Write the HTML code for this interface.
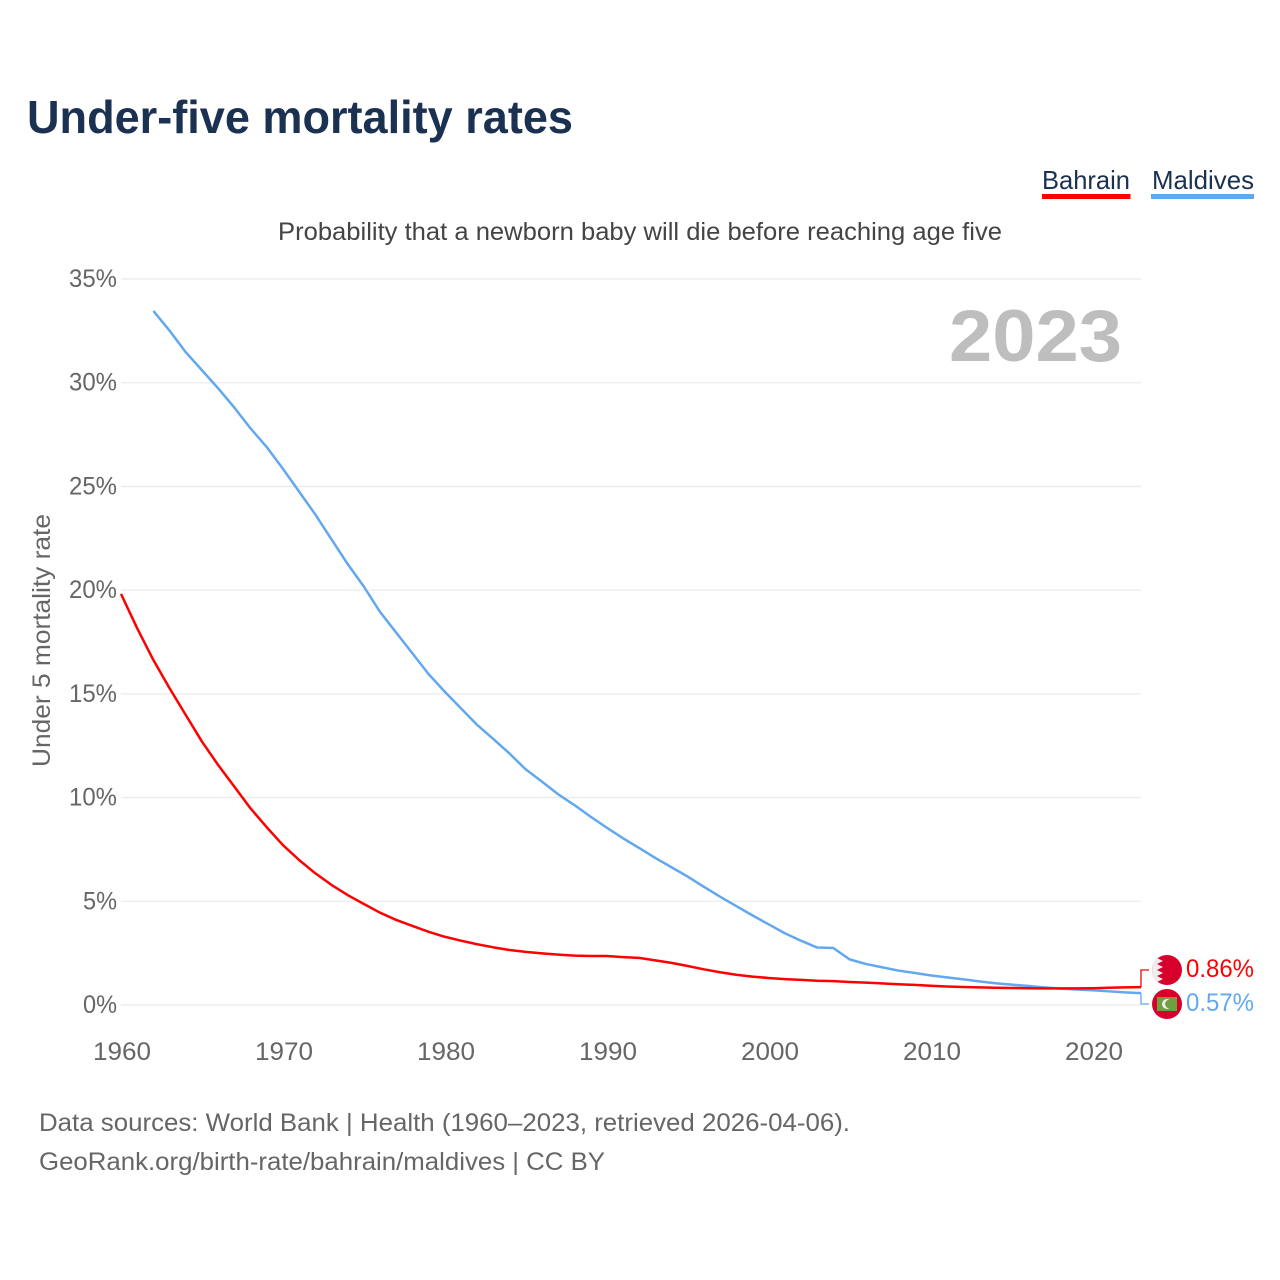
<!DOCTYPE html>
<html lang="en">
<head>
<meta charset="utf-8">
<title>Under-five mortality rates</title>
<style>
html,body{margin:0;padding:0;background:#fff;}
svg{display:block;}
text{font-family:"Liberation Sans",sans-serif;}
</style>
</head>
<body>
<svg id="chart" xmlns="http://www.w3.org/2000/svg" width="1280" height="1280" viewBox="0 0 1280 1280">
  <rect x="0" y="0" width="1280" height="1280" fill="#fff"/>
  <text x="27" y="133" font-size="46" font-weight="700" fill="#1a3152" textLength="546" lengthAdjust="spacingAndGlyphs">Under-five mortality rates</text>

  <g>
    <text x="1042" y="189" font-size="26" fill="#1a3152" textLength="88" lengthAdjust="spacingAndGlyphs">Bahrain</text>
    <rect x="1042" y="194" width="88.5" height="5" fill="#ff0000"/>
  </g>
  <g>
    <text x="1152" y="189" font-size="26" fill="#1a3152" textLength="102" lengthAdjust="spacingAndGlyphs">Maldives</text>
    <rect x="1151" y="194" width="103" height="5" fill="#62a8ee"/>
  </g>

  <text x="278" y="240" font-size="25" fill="#444" textLength="724" lengthAdjust="spacingAndGlyphs">Probability that a newborn baby will die before reaching age five</text>

  <g id="grid"></g>
  <g id="yAxis"></g>
  <g id="xAxis"></g>

  <text x="949" y="361" font-size="73" font-weight="700" fill="#bebebe" textLength="173" lengthAdjust="spacingAndGlyphs">2023</text>

  <text transform="translate(50,767) rotate(-90)" x="0" y="0" font-size="25" fill="#666" textLength="253" lengthAdjust="spacingAndGlyphs">Under 5 mortality rate</text>

  <path id="lineMaldives" fill="none" stroke="#62a8ee" stroke-width="2.5" stroke-linejoin="round"/>
  <path id="lineBahrain" fill="none" stroke="#ff0000" stroke-width="2.5" stroke-linejoin="round"/>

  <path id="connBahrain" fill="none" stroke="#ff0000" stroke-width="1.3"/>
  <path id="connMaldives" fill="none" stroke="#62a8ee" stroke-width="1.3"/>

  <defs>
    <clipPath id="clipBh"><circle cx="1167" cy="970" r="15"/></clipPath>
  </defs>
  <g clip-path="url(#clipBh)">
    <rect x="1152" y="955" width="30" height="30" fill="#d7002c"/>
    <polygon points="1152,955 1161,955 1157,958 1163,961 1157,964 1163,967 1157,970 1163,973 1157,976 1163,979 1157,982 1161,985 1152,985" fill="#eeeeee"/>
  </g>
  <g>
    <circle cx="1167" cy="1004" r="15" fill="#d7002c"/>
    <rect x="1157" y="997" width="20" height="14" fill="#6f9f3f"/>
    <circle cx="1167" cy="1004" r="5" fill="#eeeeee"/>
    <circle cx="1169.5" cy="1004" r="4.4" fill="#6f9f3f"/>
  </g>

  <text id="valueBahrain" x="1186" y="977" font-size="25" fill="#ff0000" textLength="68" lengthAdjust="spacingAndGlyphs"></text>
  <text id="valueMaldives" x="1186" y="1011" font-size="25" fill="#62a8ee" textLength="68" lengthAdjust="spacingAndGlyphs"></text>

  <text x="39" y="1131" font-size="25" fill="#666" textLength="811" lengthAdjust="spacingAndGlyphs">Data sources: World Bank | Health (1960–2023, retrieved 2026-04-06).</text>
  <text x="39" y="1170" font-size="25" fill="#666" textLength="566" lengthAdjust="spacingAndGlyphs">GeoRank.org/birth-rate/bahrain/maldives | CC BY</text>
</svg>

<script>
const yTickValues = [0, 5, 10, 15, 20, 25, 30, 35];
const xTickYears = [1960, 1970, 1980, 1990, 2000, 2010, 2020];
const bahrainStartYear = 1960;
const maldivesStartYear = 1962;
const bahrainValues = [
  19.82, 18.16, 16.63, 15.27, 13.98, 12.7, 11.57, 10.53, 9.48, 8.57,
  7.71, 6.99, 6.35, 5.79, 5.3, 4.87, 4.45, 4.1, 3.81, 3.53,
  3.29, 3.1, 2.93, 2.78, 2.65, 2.56, 2.49, 2.43, 2.38, 2.36,
  2.36, 2.31, 2.27, 2.15, 2.03, 1.88, 1.72, 1.58, 1.46, 1.37,
  1.3, 1.25, 1.21, 1.17, 1.15, 1.11, 1.08, 1.04, 1.0, 0.97,
  0.93, 0.89, 0.87, 0.85, 0.83, 0.82, 0.81, 0.8, 0.8, 0.8,
  0.81, 0.83, 0.85, 0.86
];
const maldivesValues = [
  33.46, 32.51, 31.47, 30.6, 29.73, 28.8, 27.8, 26.9,
  25.85, 24.75, 23.65, 22.45, 21.26, 20.17, 18.95, 17.95, 16.95, 15.95,
  15.1, 14.3, 13.5, 12.82, 12.12, 11.36, 10.77, 10.16, 9.64, 9.08,
  8.55, 8.04, 7.57, 7.09, 6.64, 6.19, 5.7, 5.22, 4.77, 4.32,
  3.89, 3.46, 3.1, 2.77, 2.75, 2.2, 1.98, 1.82, 1.66, 1.55,
  1.43, 1.33, 1.24, 1.14, 1.05, 0.98, 0.92, 0.85, 0.79, 0.75,
  0.71, 0.66, 0.61, 0.57
];

const NS = 'http://www.w3.org/2000/svg';
function xScale(year) { return 121 + (year - 1960) * (1020 / 63); }
function yScale(v) { return 1005 - v * (726 / 35); }
function linePath(values, startYear) {
  return values.map(function (v, i) {
    return (i ? 'L' : 'M') + xScale(startYear + i).toFixed(2) + ' ' + yScale(v).toFixed(2);
  }).join(' ');
}

const grid = document.getElementById('grid');
const yAxis = document.getElementById('yAxis');
const xAxis = document.getElementById('xAxis');

yTickValues.forEach(function (v) {
  const line = document.createElementNS(NS, 'line');
  
  
  line.setAttribute('x1', 121);
  line.setAttribute('x2', 1141);
  line.setAttribute('y1', yScale(v));
  line.setAttribute('y2', yScale(v));
  line.setAttribute('stroke', '#ebebeb');
  line.setAttribute('stroke-width', '1.3');
  grid.appendChild(line);

  const label = document.createElementNS(NS, 'text');
  
  
  const width = v >= 10 ? 48 : 34;
  label.setAttribute('x', 117 - width);
  label.setAttribute('y', yScale(v) + 8);
  label.setAttribute('font-size', '25');
  label.setAttribute('fill', '#666');
  label.setAttribute('textLength', width);
  label.setAttribute('lengthAdjust', 'spacingAndGlyphs');
  label.textContent = v + '%';
  yAxis.appendChild(label);
});

xTickYears.forEach(function (year) {
  const label = document.createElementNS(NS, 'text');
  
  
  label.setAttribute('x', xScale(year) - 28 + (year - 1960) * 0.01);
  label.setAttribute('y', 1060);
  label.setAttribute('font-size', '25');
  label.setAttribute('fill', '#666');
  label.setAttribute('textLength', 58);
  label.setAttribute('lengthAdjust', 'spacingAndGlyphs');
  label.textContent = year;
  xAxis.appendChild(label);
});

document.getElementById('lineBahrain').setAttribute('d', linePath(bahrainValues, bahrainStartYear));
document.getElementById('lineMaldives').setAttribute('d', linePath(maldivesValues, maldivesStartYear));

const lastB = bahrainValues[bahrainValues.length - 1];
const lastM = maldivesValues[maldivesValues.length - 1];
document.getElementById('valueBahrain').textContent = lastB.toFixed(2) + '%';
document.getElementById('valueMaldives').textContent = lastM.toFixed(2) + '%';
document.getElementById('connBahrain').setAttribute('d', 'M1141 ' + yScale(lastB).toFixed(2) + ' V970 H1149');
document.getElementById('connMaldives').setAttribute('d', 'M1141 ' + yScale(lastM).toFixed(2) + ' V1004 H1149');
</script>
</body>
</html>
